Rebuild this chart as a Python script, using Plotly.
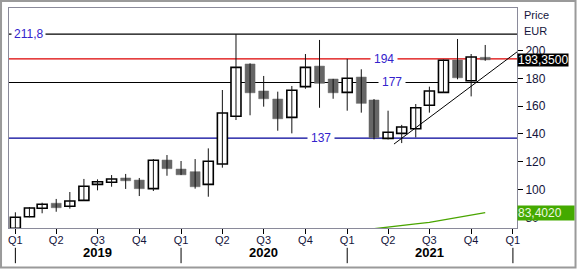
import plotly.graph_objects as go

# ---- data ----
dates = ["2019-01-01", "2019-02-01", "2019-03-01", "2019-04-01", "2019-05-01", "2019-06-01",
         "2019-07-01", "2019-08-01", "2019-09-01", "2019-10-01", "2019-11-01", "2019-12-01",
         "2020-01-01", "2020-02-01", "2020-03-01", "2020-04-01", "2020-05-01", "2020-06-01",
         "2020-07-01", "2020-08-01", "2020-09-01", "2020-10-01", "2020-11-01", "2020-12-01",
         "2021-01-01", "2021-02-01", "2021-03-01", "2021-04-01", "2021-05-01", "2021-06-01",
         "2021-07-01", "2021-08-01", "2021-09-01", "2021-10-01", "2021-11-01"]
opens = [72.0, 80.4, 86.5, 90.1, 87.9, 92.2, 103.7, 105.2, 108.3, 106.8, 100.6, 121.2,
         114.7, 112.8, 103.7, 118.3, 152.7, 190.3, 170.9, 165.1, 151.9, 174.0, 188.8, 179.5,
         169.9, 180.9, 164.4, 136.8, 140.4, 143.7, 160.6, 169.9, 193.2, 178.3, 195.1]
highs = [83.6, 87.4, 90.5, 93.2, 98.2, 107.6, 107.3, 110.4, 111.2, 108.3, 121.9, 124.8,
         120.5, 121.9, 129.6, 171.6, 211.8, 190.8, 181.7, 170.4, 174.5, 197.5, 207.6, 179.6,
         194.0, 186.5, 165.1, 156.7, 146.5, 161.5, 174.0, 193.5, 208.3, 197.5, 204.0]
lows = [70.0, 80.0, 82.9, 84.0, 86.2, 92.0, 99.4, 102.0, 100.4, 95.3, 98.9, 109.9,
        110.4, 100.6, 94.8, 115.7, 150.0, 153.4, 159.6, 142.3, 140.4, 172.5, 158.8, 165.3,
        156.7, 155.3, 136.1, 136.0, 133.4, 137.5, 155.3, 169.5, 179.3, 167.0, 192.6]
closes = [80.0, 86.7, 89.4, 86.9, 91.7, 102.3, 105.6, 107.6, 106.3, 100.6, 121.0, 115.0,
          110.6, 102.0, 120.3, 155.0, 187.9, 169.6, 165.3, 150.9, 171.4, 187.9, 176.4, 169.6,
          180.0, 162.0, 137.3, 141.2, 145.0, 158.8, 170.9, 193.0, 180.4, 195.3, 193.35]

ind_dates = ["2021-03-01", "2021-04-01", "2021-05-01", "2021-06-01", "2021-07-01",
             "2021-08-01", "2021-09-01", "2021-10-01", "2021-11-01"]
ind_values = [71.8, 72.8, 73.9, 75.2, 76.4, 78.2, 80.0, 81.7, 83.402]

trend_dates = ["2021-04-14", "2022-01-10"]
trend_values = [132.7, 199.0]

levels = [211.8, 194.0, 177.0, 137.0]
level_labels = ["211,8", "194", "177", "137"]
level_colors = ["#000000", "#dd0000", "#000000", "#000099"]

quarter_ticks = ["2019-01-01", "2019-04-01", "2019-07-01", "2019-10-01",
                 "2020-01-01", "2020-04-01", "2020-07-01", "2020-10-01",
                 "2021-01-01", "2021-04-01", "2021-07-01", "2021-10-01", "2022-01-01"]
quarter_labels = ["Q1", "Q2", "Q3", "Q4"] * 3 + ["Q1"]
years = ["2019", "2020", "2021"]
year_starts = ["2019-01-01", "2020-01-01", "2021-01-01", "2022-01-01"]
y_ticks = [80, 100, 120, 140, 160, 180, 200]

last_price = closes[-1]
last_ind = ind_values[-1]

FONT = "Liberation Sans, Arial, sans-serif"
TXT = "#14143c"

# ---- derived candle geometry ----
up = [c >= o for o, c in zip(opens, closes)]
body_base = [min(o, c) for o, c in zip(opens, closes)]
body_h = [abs(c - o) for o, c in zip(opens, closes)]
wx, wy = [], []
for d, h, l in zip(dates, highs, lows):
    wx += [d, d, None]
    wy += [l, h, None]

fig = go.Figure()

# indicator line
fig.add_trace(go.Scatter(x=ind_dates, y=ind_values, mode="lines",
                         line=dict(color="#4aa500", width=1.3), hoverinfo="skip"))
# wicks
fig.add_trace(go.Scatter(x=wx, y=wy, mode="lines",
                         line=dict(color="#111111", width=1), hoverinfo="skip"))
# bodies
fig.add_trace(go.Bar(
    x=dates, y=body_h, base=body_base,
    width=22 * 86400000,
    marker=dict(color=["#ffffff" if u else "#666666" for u in up],
                line=dict(color=["#000000" if u else "#666666" for u in up],
                          width=[1.6 if u else 0.5 for u in up])),
    hoverinfo="skip"))
# trend line
fig.add_trace(go.Scatter(x=trend_dates, y=trend_values, mode="lines",
                         line=dict(color="#000000", width=1), hoverinfo="skip"))

shapes = []
annotations = []
label_pos = [0.0, 0.739, 0.754, 0.614]
for lv, lab, col, px in zip(levels, level_labels, level_colors, label_pos):
    shapes.append(dict(type="line", xref="paper", x0=0, x1=1, yref="y", y0=lv, y1=lv,
                       line=dict(color=col, width=1.2), layer="below"))
    annotations.append(dict(xref="paper", x=px if px > 0 else 0.004,
                            xanchor="center" if px > 0 else "left",
                            yref="y", y=lv, yanchor="middle", text=lab, showarrow=False,
                            font=dict(family=FONT, size=12, color="#3322cc"),
                            bgcolor="#ffffff", borderpad=3 if px > 0 else 2))

for ys in year_starts:
    shapes.append(dict(type="line", xref="x", x0=ys, x1=ys, yref="paper",
                       y0=-0.09, y1=-0.16, line=dict(color="#000000", width=1)))
for yr in years:
    annotations.append(dict(xref="x", x=yr + "-07-01", yref="paper", y=-0.113,
                            yanchor="middle",
                            text="<b>" + yr + "</b>", showarrow=False,
                            font=dict(family=FONT, size=13, color="#000000")))

# outer frame
shapes.append(dict(type="rect", xref="paper", yref="paper",
                   x0=-0.0157, x1=1.1152, y0=-0.1795, y1=1.0318,
                   line=dict(color="#9a9a9a", width=2)))

annotations += [
    dict(xref="paper", x=1.0, xanchor="left", yref="y", y=last_price, yanchor="middle",
         text=f"{last_price:.4f}".replace(".", ","), showarrow=False,
         font=dict(family=FONT, size=12, color="#ffffff"), bgcolor="#000000",
         borderpad=0, height=12),
    dict(xref="paper", x=1.0, xanchor="left", yref="y", y=last_ind, yanchor="middle",
         text=f"{last_ind:.4f}".replace(".", ","), showarrow=False, align="left",
         font=dict(family=FONT, size=12, color="#eef8e0"), bgcolor="#44aa00",
         borderpad=0, width=56, height=14),
    dict(xref="paper", x=1.0098, xanchor="left", yref="paper", y=0.968, yanchor="middle",
         text="Price", showarrow=False, font=dict(family=FONT, size=11, color=TXT)),
    dict(xref="paper", x=1.0098, xanchor="left", yref="paper", y=0.895, yanchor="middle",
         text="EUR", showarrow=False, font=dict(family=FONT, size=11, color=TXT)),
]

fig.update_layout(
    width=577, height=269,
    margin=dict(l=9, r=60, t=8, b=41),
    paper_bgcolor="#ffffff", plot_bgcolor="#ffffff",
    showlegend=False, barmode="overlay",
    shapes=shapes, annotations=annotations,
    xaxis=dict(type="date", range=["2018-12-18", "2022-01-10"],
               tickvals=quarter_ticks, ticktext=quarter_labels,
               ticks="outside", ticklen=5, tickcolor="#000000",
               ticklabelstandoff=-3,
               showgrid=False, zeroline=False,
               showline=True, linecolor="#8a8a9a", linewidth=1, mirror=True,
               tickfont=dict(family=FONT, size=11, color=TXT)),
    yaxis=dict(side="right", range=[72.3, 230.6], tickvals=y_ticks,
               ticks="outside", ticklen=5, tickcolor="#000000",
               showgrid=False, zeroline=False,
               showline=True, linecolor="#8a8a9a", linewidth=1, mirror=True,
               tickfont=dict(family=FONT, size=12, color=TXT)),
)

fig.write_html("out.html")
